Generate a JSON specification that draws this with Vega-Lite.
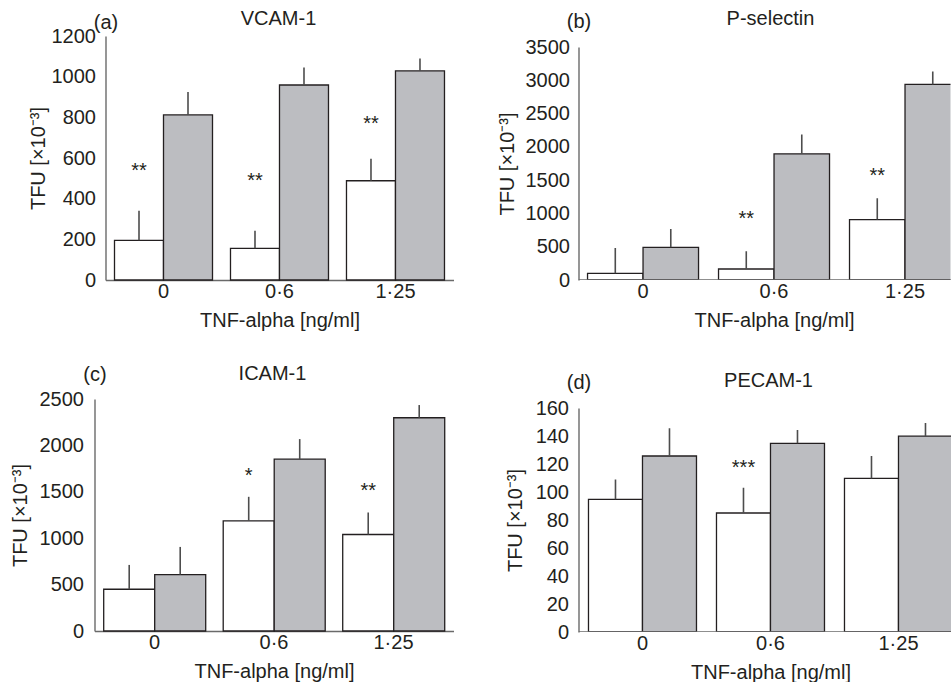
{
  "$schema": "https://vega.github.io/schema/vega-lite/v6.json",
  "padding": {"left": 10.5, "top": 8, "right": 0, "bottom": 0},
  "background": "#ffffff",
  "config": {
    "view": {"stroke": null},
    "font": "Liberation Sans",
    "axis": {
      "grid": false,
      "ticks": false,
      "labelFont": "Liberation Sans",
      "labelFontSize": 20,
      "labelColor": "#231f20",
      "titleFont": "Liberation Sans",
      "titleFontSize": 20,
      "titleFontWeight": "normal",
      "titleColor": "#231f20",
      "domainColor": "#6a6a6a",
      "domainWidth": 1.4,
      "labelOverlap": false
    },
    "title": {"font": "Liberation Sans", "fontSize": 20, "fontWeight": "normal", "color": "#231f20"}
  },
  "datasets": {
    "a": [
      {"dose": "0", "grp": "Group 1", "mean": 195, "upper": 340, "stars": "**", "star_y": 560},
      {"dose": "0", "grp": "Group 2", "mean": 812, "upper": 925},
      {"dose": "0·6", "grp": "Group 1", "mean": 156, "upper": 242, "stars": "**", "star_y": 511},
      {"dose": "0·6", "grp": "Group 2", "mean": 959, "upper": 1045},
      {"dose": "1·25", "grp": "Group 1", "mean": 488, "upper": 596, "stars": "**", "star_y": 791},
      {"dose": "1·25", "grp": "Group 2", "mean": 1028, "upper": 1089}
    ],
    "b": [
      {"dose": "0", "grp": "Group 1", "mean": 100, "upper": 481},
      {"dose": "0", "grp": "Group 2", "mean": 491, "upper": 767},
      {"dose": "0·6", "grp": "Group 1", "mean": 165, "upper": 431, "stars": "**", "star_y": 993},
      {"dose": "0·6", "grp": "Group 2", "mean": 1895, "upper": 2186},
      {"dose": "1·25", "grp": "Group 1", "mean": 907, "upper": 1228, "stars": "**", "star_y": 1644},
      {"dose": "1·25", "grp": "Group 2", "mean": 2938, "upper": 3133}
    ],
    "c": [
      {"dose": "0", "grp": "Group 1", "mean": 450, "upper": 712},
      {"dose": "0", "grp": "Group 2", "mean": 608, "upper": 906},
      {"dose": "0·6", "grp": "Group 1", "mean": 1187, "upper": 1446, "stars": "*", "star_y": 1726},
      {"dose": "0·6", "grp": "Group 2", "mean": 1852, "upper": 2068},
      {"dose": "1·25", "grp": "Group 1", "mean": 1040, "upper": 1277, "stars": "**", "star_y": 1565},
      {"dose": "1·25", "grp": "Group 2", "mean": 2298, "upper": 2435}
    ],
    "d": [
      {"dose": "0", "grp": "Group 1", "mean": 94.8, "upper": 109},
      {"dose": "0", "grp": "Group 2", "mean": 125.7, "upper": 145.6},
      {"dose": "0·6", "grp": "Group 1", "mean": 85, "upper": 103, "stars": "***", "star_y": 120.5},
      {"dose": "0·6", "grp": "Group 2", "mean": 134.8, "upper": 144.2},
      {"dose": "1·25", "grp": "Group 1", "mean": 109.7, "upper": 125.7},
      {"dose": "1·25", "grp": "Group 2", "mean": 139.9, "upper": 149.2}
    ]
  },
  "columns": 2,
  "spacing": {"row": 119, "column": 125},
  "bounds": "flush",
  "resolve": {"scale": {"xOffset": "independent", "x": "independent", "y": "independent"}},
  "concat": [
        {
          "width": 359, "height": 244,
          "data": {"name": "a"},
          "title": {"text": "VCAM-1", "frame": "group", "anchor": "middle", "baseline": "alphabetic", "dx": 4.5, "offset": -32},
          "resolve": {"axis": {"x": "independent"}},
          "layer": [
            {
              "mark": {"type": "bar", "stroke": "#231f20", "strokeWidth": 1.3},
              "encoding": {
                "x": {"field": "dose", "type": "nominal", "sort": ["0", "0·6", "1·25"],
                  "scale": {"range": [11, 359], "paddingInner": 0.155, "paddingOuter": 0.0776},
                  "axis": {"orient": "bottom", "title": "TNF-alpha [ng/ml]", "labelAngle": 0, "labelPadding": 1, "titlePadding": 9}},
                "xOffset": {"field": "grp", "type": "nominal", "sort": ["Group 1", "Group 2"], "scale": {"range": [0, 98]}},
                "y": {"field": "mean", "type": "quantitative", "title": "TFU [×10⁻³]", "scale": {"domain": [0, 1200], "nice": false},
                  "axis": {"values": [0, 200, 400, 600, 800, 1000, 1200], "format": "d", "labelPadding": 10, "titlePadding": 3, "offset": -11}},
                "fill": {"field": "grp", "type": "nominal", "scale": {"domain": ["Group 1", "Group 2"], "range": ["#ffffff", "#bcbdc1"]}, "legend": null}
              }
            },
            {
              "mark": {"type": "rule", "color": "#4d4d4d", "strokeWidth": 1.6},
              "encoding": {
                "x": {"field": "dose", "type": "nominal", "sort": ["0", "0·6", "1·25"],
                  "axis": {"orient": "top", "title": "(a)", "labels": false, "domain": false, "ticks": false, "titleAnchor": "start", "titleAlign": "center", "titleBaseline": "alphabetic", "titlePadding": 7.5}},
                "xOffset": {"field": "grp", "type": "nominal", "sort": ["Group 1", "Group 2"]},
                "y": {"field": "mean", "type": "quantitative", "title": "TFU [×10⁻³]",
                  "axis": {"values": [0, 200, 400, 600, 800, 1000, 1200], "format": "d", "labelPadding": 10, "titlePadding": 3, "offset": -11}},
                "y2": {"field": "upper"}
              }
            },
            {
              "transform": [{"filter": "datum.stars"}],
              "mark": {"type": "text", "fontSize": 20, "dy": 5, "color": "#231f20"},
              "encoding": {
                "x": {"field": "dose", "type": "nominal", "sort": ["0", "0·6", "1·25"], "axis": null},
                "xOffset": {"field": "grp", "type": "nominal", "sort": ["Group 1", "Group 2"]},
                "y": {"field": "star_y", "type": "quantitative", "title": "TFU [×10⁻³]",
                  "axis": {"values": [0, 200, 400, 600, 800, 1000, 1200], "format": "d", "labelPadding": 10, "titlePadding": 3, "offset": -11}},
                "text": {"field": "stars"}
              }
            }
          ]
        },
        {
          "width": 372, "height": 244,
          "data": {"name": "b"},
          "title": {"text": "P-selectin", "frame": "group", "anchor": "middle", "baseline": "alphabetic", "dx": 6, "offset": -33.5},
          "resolve": {"axis": {"x": "independent"}},
          "layer": [
            {
              "mark": {"type": "bar", "stroke": "#231f20", "strokeWidth": 1.3, "clip": true},
              "encoding": {
                "x": {"field": "dose", "type": "nominal", "sort": ["0", "0·6", "1·25"],
                  "scale": {"range": [0, 391], "paddingInner": 0.153, "paddingOuter": 0.069},
                  "axis": {"orient": "bottom", "title": "TNF-alpha [ng/ml]", "labelAngle": 0, "labelPadding": 1, "titlePadding": 9, "domain": false}},
                "xOffset": {"field": "grp", "type": "nominal", "sort": ["Group 1", "Group 2"], "scale": {"range": [0, 111]}},
                "y": {"field": "mean", "type": "quantitative", "title": "TFU [×10⁻³]", "scale": {"domain": [0, 3500], "nice": false, "range": [244, 11]},
                  "axis": {"values": [0, 500, 1000, 1500, 2000, 2500, 3000, 3500], "format": "d", "labelPadding": 9, "titlePadding": 8}},
                "fill": {"field": "grp", "type": "nominal", "scale": {"domain": ["Group 1", "Group 2"], "range": ["#ffffff", "#bcbdc1"]}, "legend": null}
              }
            },
            {
              "mark": {"type": "rule", "color": "#4d4d4d", "strokeWidth": 1.6, "clip": true},
              "encoding": {
                "x": {"field": "dose", "type": "nominal", "sort": ["0", "0·6", "1·25"],
                  "axis": {"orient": "top", "title": "(b)", "labels": false, "domain": false, "ticks": false, "titleAnchor": "start", "titleAlign": "center", "titleBaseline": "alphabetic", "titlePadding": 9}},
                "xOffset": {"field": "grp", "type": "nominal", "sort": ["Group 1", "Group 2"]},
                "y": {"field": "mean", "type": "quantitative", "title": "TFU [×10⁻³]",
                  "axis": {"values": [0, 500, 1000, 1500, 2000, 2500, 3000, 3500], "format": "d", "labelPadding": 9, "titlePadding": 8}},
                "y2": {"field": "upper"}
              }
            },
            {
              "data": {"values": [{"base": 0}]},
              "mark": {"type": "rule", "color": "#6a6a6a", "strokeWidth": 1.4, "clip": true},
              "encoding": {"y": {"field": "base", "type": "quantitative", "title": "TFU [×10⁻³]",
                  "axis": {"values": [0, 500, 1000, 1500, 2000, 2500, 3000, 3500], "format": "d", "labelPadding": 9, "titlePadding": 8}}}
            },
            {
              "transform": [{"filter": "datum.stars"}],
              "mark": {"type": "text", "fontSize": 20, "dy": 5, "color": "#231f20", "clip": true},
              "encoding": {
                "x": {"field": "dose", "type": "nominal", "sort": ["0", "0·6", "1·25"], "axis": null},
                "xOffset": {"field": "grp", "type": "nominal", "sort": ["Group 1", "Group 2"]},
                "y": {"field": "star_y", "type": "quantitative", "title": "TFU [×10⁻³]",
                  "axis": {"values": [0, 500, 1000, 1500, 2000, 2500, 3000, 3500], "format": "d", "labelPadding": 9, "titlePadding": 8}},
                "text": {"field": "stars"}
              }
            }
          ]
        },
        {
          "width": 359, "height": 232,
          "data": {"name": "c"},
          "title": {"text": "ICAM-1", "frame": "group", "anchor": "middle", "baseline": "alphabetic", "dx": -1.5, "offset": -36},
          "resolve": {"axis": {"x": "independent"}},
          "layer": [
            {
              "mark": {"type": "bar", "stroke": "#231f20", "strokeWidth": 1.3},
              "encoding": {
                "x": {"field": "dose", "type": "nominal", "sort": ["0", "0·6", "1·25"],
                  "scale": {"paddingInner": 0.15, "paddingOuter": 0.077},
                  "axis": {"orient": "bottom", "title": "TNF-alpha [ng/ml]", "labelAngle": 0, "labelPadding": 1, "titlePadding": 9}},
                "xOffset": {"field": "grp", "type": "nominal", "sort": ["Group 1", "Group 2"], "scale": {"range": [0, 102]}},
                "y": {"field": "mean", "type": "quantitative", "title": "TFU [×10⁻³]", "scale": {"domain": [0, 2500], "nice": false},
                  "axis": {"values": [0, 500, 1000, 1500, 2000, 2500], "format": "d", "labelPadding": 11, "titlePadding": 8.5}},
                "fill": {"field": "grp", "type": "nominal", "scale": {"domain": ["Group 1", "Group 2"], "range": ["#ffffff", "#bcbdc1"]}, "legend": null}
              }
            },
            {
              "mark": {"type": "rule", "color": "#4d4d4d", "strokeWidth": 1.6},
              "encoding": {
                "x": {"field": "dose", "type": "nominal", "sort": ["0", "0·6", "1·25"],
                  "axis": {"orient": "top", "title": "(c)", "labels": false, "domain": false, "ticks": false, "titleAnchor": "start", "titleAlign": "center", "titleBaseline": "alphabetic", "titlePadding": 19}},
                "xOffset": {"field": "grp", "type": "nominal", "sort": ["Group 1", "Group 2"]},
                "y": {"field": "mean", "type": "quantitative", "title": "TFU [×10⁻³]",
                  "axis": {"values": [0, 500, 1000, 1500, 2000, 2500], "format": "d", "labelPadding": 11, "titlePadding": 8.5}},
                "y2": {"field": "upper"}
              }
            },
            {
              "transform": [{"filter": "datum.stars"}],
              "mark": {"type": "text", "fontSize": 20, "dy": 5, "color": "#231f20"},
              "encoding": {
                "x": {"field": "dose", "type": "nominal", "sort": ["0", "0·6", "1·25"], "axis": null},
                "xOffset": {"field": "grp", "type": "nominal", "sort": ["Group 1", "Group 2"]},
                "y": {"field": "star_y", "type": "quantitative", "title": "TFU [×10⁻³]",
                  "axis": {"values": [0, 500, 1000, 1500, 2000, 2500], "format": "d", "labelPadding": 11, "titlePadding": 8.5}},
                "text": {"field": "stars"}
              }
            }
          ]
        },
        {
          "width": 373, "height": 233,
          "data": {"name": "d"},
          "title": {"text": "PECAM-1", "frame": "group", "anchor": "middle", "baseline": "alphabetic", "dx": 3.5, "offset": -35},
          "resolve": {"axis": {"x": "independent"}},
          "layer": [
            {
              "mark": {"type": "bar", "stroke": "#231f20", "strokeWidth": 1.3, "clip": true},
              "encoding": {
                "x": {"field": "dose", "type": "nominal", "sort": ["0", "0·6", "1·25"],
                  "scale": {"range": [0, 384], "paddingInner": 0.156, "paddingOuter": 0.078},
                  "axis": {"orient": "bottom", "title": "TNF-alpha [ng/ml]", "labelAngle": 0, "labelPadding": 1, "titlePadding": 9, "domain": false}},
                "xOffset": {"field": "grp", "type": "nominal", "sort": ["Group 1", "Group 2"], "scale": {"range": [0, 108]}},
                "y": {"field": "mean", "type": "quantitative", "title": "TFU [×10⁻³]", "scale": {"domain": [0, 160], "nice": false, "range": [233, 9]},
                  "axis": {"values": [0, 20, 40, 60, 80, 100, 120, 140, 160], "format": "d", "labelPadding": 10, "titlePadding": 10}},
                "fill": {"field": "grp", "type": "nominal", "scale": {"domain": ["Group 1", "Group 2"], "range": ["#ffffff", "#bcbdc1"]}, "legend": null}
              }
            },
            {
              "mark": {"type": "rule", "color": "#4d4d4d", "strokeWidth": 1.6, "clip": true},
              "encoding": {
                "x": {"field": "dose", "type": "nominal", "sort": ["0", "0·6", "1·25"],
                  "axis": {"orient": "top", "title": "(d)", "labels": false, "domain": false, "ticks": false, "titleAnchor": "start", "titleAlign": "center", "titleBaseline": "alphabetic", "titlePadding": 11}},
                "xOffset": {"field": "grp", "type": "nominal", "sort": ["Group 1", "Group 2"]},
                "y": {"field": "mean", "type": "quantitative", "title": "TFU [×10⁻³]",
                  "axis": {"values": [0, 20, 40, 60, 80, 100, 120, 140, 160], "format": "d", "labelPadding": 10, "titlePadding": 10}},
                "y2": {"field": "upper"}
              }
            },
            {
              "data": {"values": [{"base": 0}]},
              "mark": {"type": "rule", "color": "#6a6a6a", "strokeWidth": 1.4, "clip": true},
              "encoding": {"y": {"field": "base", "type": "quantitative", "title": "TFU [×10⁻³]",
                  "axis": {"values": [0, 20, 40, 60, 80, 100, 120, 140, 160], "format": "d", "labelPadding": 10, "titlePadding": 10}}}
            },
            {
              "transform": [{"filter": "datum.stars"}],
              "mark": {"type": "text", "fontSize": 20, "dy": 5, "color": "#231f20", "clip": true},
              "encoding": {
                "x": {"field": "dose", "type": "nominal", "sort": ["0", "0·6", "1·25"], "axis": null},
                "xOffset": {"field": "grp", "type": "nominal", "sort": ["Group 1", "Group 2"]},
                "y": {"field": "star_y", "type": "quantitative", "title": "TFU [×10⁻³]",
                  "axis": {"values": [0, 20, 40, 60, 80, 100, 120, 140, 160], "format": "d", "labelPadding": 10, "titlePadding": 10}},
                "text": {"field": "stars"}
              }
            }
          ]
        }
  ]
}
